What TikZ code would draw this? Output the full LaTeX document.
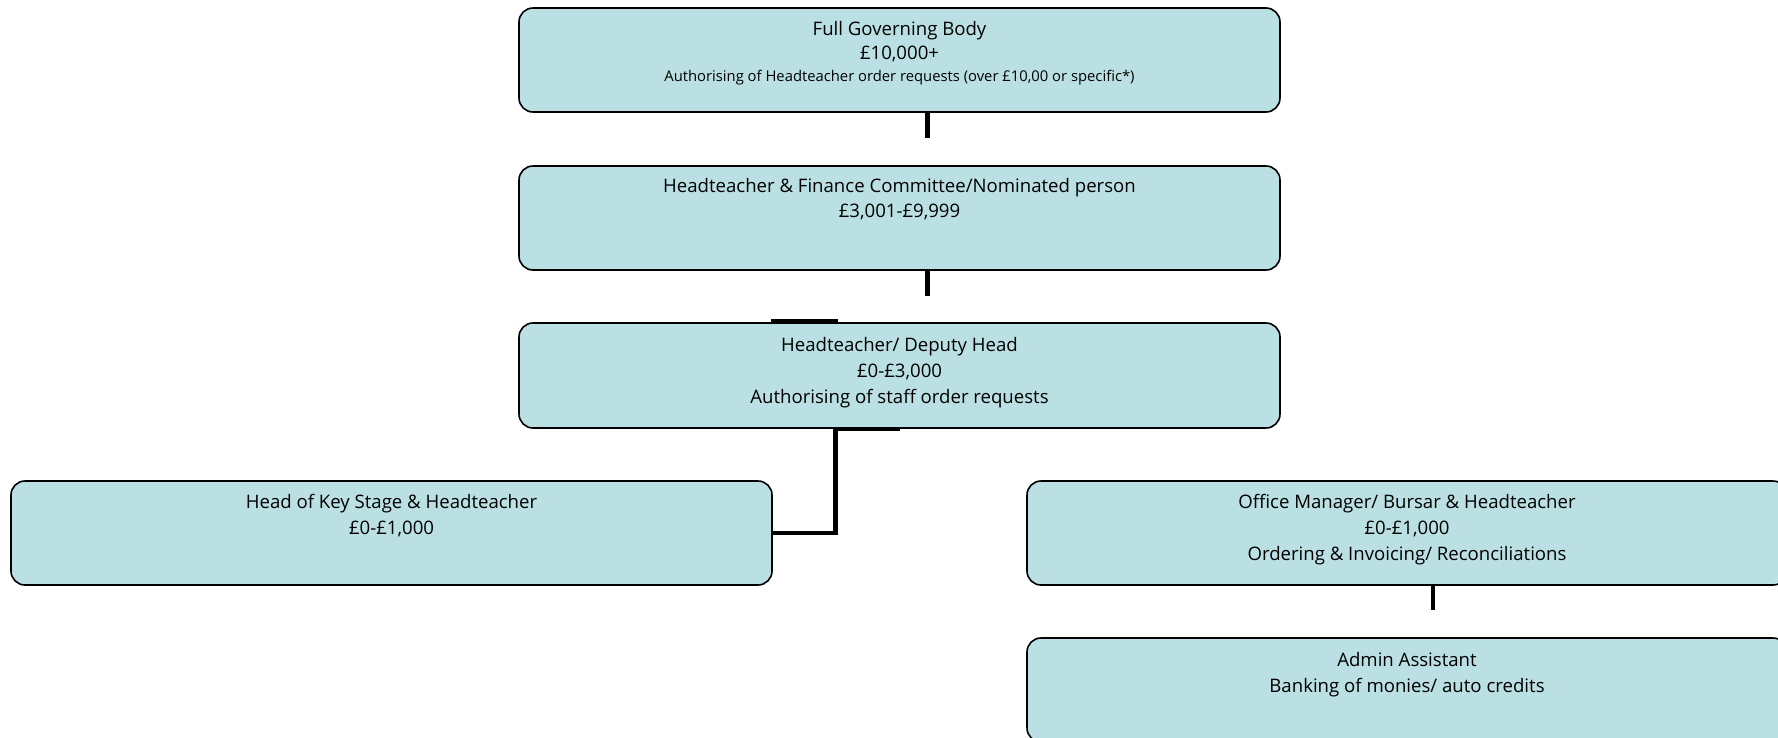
\documentclass[tikz,border=0pt]{standalone}
\usepackage{fontspec}
\setmainfont{Open Sans}
\definecolor{boxfill}{HTML}{BBE0E3}
\begin{document}
\begin{tikzpicture}[x=1pt,y=-1pt,
  box/.style={draw=black, line width=1.6pt, fill=boxfill, rounded corners=14pt,
    minimum width=761pt, minimum height=104pt, inner sep=0pt},
  big/.style={anchor=base, inner sep=0pt, font=\fontsize{18.6}{22}\selectfont},
  small/.style={anchor=base, inner sep=0pt, font=\fontsize{14.8}{18}\selectfont},
  link/.style={line width=4.4pt},
  thinlink/.style={line width=3pt}]
\useasboundingbox (0,0) rectangle (1778,737);

% boxes
\node[box] (b1) at (899.5,60) {};
\node[box] (b2) at (899.5,218) {};
\node[box, minimum height=105pt] (b3) at (899.5,375.5) {};
\node[box] (b4) at (391.5,533) {};
\node[box, minimum width=760pt] (b5) at (1407,533) {};
\node[box, minimum width=760pt] (b6) at (1407,690) {};

% texts
\node[big] (t1a) at (899.5,35) {Full Governing Body};
\node[big] (t1b) at (899.5,59) {£10,000+};
\node[small] (t1c) at (899.5,81) {Authorising of Headteacher order requests (over £10,00 or specific*)};

\node[big] (t2a) at (899.5,192) {Headteacher \& Finance Committee/Nominated person};
\node[big] (t2b) at (899.5,217) {£3,001-£9,999};

\node[big] (t3a) at (899.5,351) {Headteacher/ Deputy Head};
\node[big] (t3b) at (899.5,377) {£0-£3,000};
\node[big] (t3c) at (899.5,403) {Authorising of staff order requests};

\node[big] (t4a) at (391.5,508) {Head of Key Stage \& Headteacher};
\node[big] (t4b) at (391.5,534) {£0-£1,000};

\node[big] (t5a) at (1407,508) {Office Manager/ Bursar \& Headteacher};
\node[big] (t5b) at (1407,534) {£0-£1,000};
\node[big] (t5c) at (1407,560) {Ordering \& Invoicing/ Reconciliations};

\node[big] (t6a) at (1407,666) {Admin Assistant};
\node[big] (t6b) at (1407,692) {Banking of monies/ auto credits};

% connectors
\coordinate (e1) at (927.5,138);
\coordinate (e2) at (927.5,296);
\coordinate (e5) at (1433,610);
\draw[link] (b1.south -| e1) -- (e1);
\draw[link] (b2.south -| e2) -- (e2);
\draw[thinlink] ([xshift=-128.5pt,yshift=1.5pt]b3.north) -- ([xshift=-61.5pt,yshift=1.5pt]b3.north);
\draw[thinlink] ([xshift=-66pt,yshift=-1pt]b3.south) -- ([yshift=-1pt]b3.south);
\draw[link] ([xshift=-64pt]b3.south) |- (b4.east);
\draw[link] (b5.south -| e5) -- (e5);
\end{tikzpicture}
\end{document}
